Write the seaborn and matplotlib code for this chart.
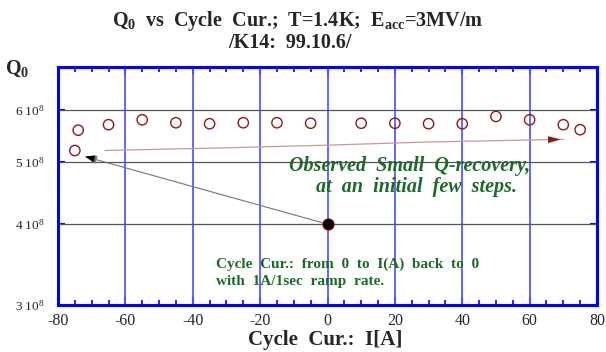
import matplotlib
matplotlib.use("Agg")
import matplotlib.pyplot as plt
import seaborn as sns
import pandas as pd
from matplotlib.ticker import FixedLocator, NullLocator, MultipleLocator

# data
cycle_current = [-75, -74, -65, -55, -45, -35, -25, -15, -5, 10, 20, 30, 40, 50, 60, 70, 75]
q0_values = [5.20e8, 5.59e8, 5.70e8, 5.80e8, 5.74e8, 5.72e8, 5.74e8, 5.74e8, 5.73e8,
             5.73e8, 5.73e8, 5.72e8, 5.72e8, 5.87e8, 5.80e8, 5.70e8, 5.60e8]
start_point_x = [0]
start_point_q = [4.0e8]
trend_x = [-66, -30, 0, 30, 70]
trend_q = [5.20e8, 5.25e8, 5.30e8, 5.36e8, 5.41e8]
ytick_vals = [3e8, 4e8, 5e8, 6e8]
ytick_labels = ["3 10$^8$", "4 10$^8$", "5 10$^8$", "6 10$^8$"]
xtick_vals = [-80, -60, -40, -20, 0, 20, 40, 60, 80]

sns.set_style("white")
plt.rcParams['font.family'] = ['Liberation Serif', 'DejaVu Serif']
plt.rcParams['mathtext.fontset'] = 'custom'
plt.rcParams['mathtext.rm'] = 'Liberation Serif'
plt.rcParams['mathtext.it'] = 'Liberation Serif:italic'
plt.rcParams['mathtext.bf'] = 'Liberation Serif:bold'

fig = plt.figure(figsize=(6.06, 3.52), dpi=100)
ax = fig.add_axes([58/606, 1-305/352, (597-58)/606, (305-67)/352])

df = pd.DataFrame({"I": cycle_current, "Q": q0_values})
ax.set_yscale("log")
ax.set_xlim(-80, 80)
ax.set_ylim(3e8, 7e8)

# grid
for xv in xtick_vals[1:-1]:
    ax.axvline(xv, color="#5a5aff", lw=1.3, zorder=1)
for yv in ytick_vals[1:]:
    ax.axhline(yv, color="#555555", lw=0.9, zorder=1)

# trend line with arrow
ax.plot(trend_x, trend_q, color="#cf9898", lw=0.9, zorder=2)
ax.annotate("", xy=(trend_x[-1], trend_q[-1]), xytext=(trend_x[-2] + 36, trend_q[-2] + 0.045e8),
            arrowprops=dict(arrowstyle="-|>,head_length=0.9,head_width=0.25", color="#8b1a1a", lw=0.0),
            zorder=3)

# black arrow from start point to first point
ax.annotate("", xy=(-72, 5.09e8), xytext=(start_point_x[0], start_point_q[0]),
            arrowprops=dict(arrowstyle="-|>,head_length=0.7,head_width=0.25", color="#777777",
                            lw=0.8, shrinkA=0, shrinkB=0), zorder=3)
ax.annotate("", xy=(-72, 5.09e8), xytext=(-68, 5.03e8),
            arrowprops=dict(arrowstyle="-|>,head_length=0.7,head_width=0.25", color="black",
                            lw=0.0, shrinkA=0, shrinkB=0), zorder=3)

sns.scatterplot(data=df, x="I", y="Q", ax=ax, marker="o", s=55, facecolor="none",
                edgecolor="#8b1a1a", linewidth=1.0, zorder=4, legend=False)
sns.scatterplot(x=start_point_x, y=start_point_q, ax=ax, marker="o", s=65, color="black",
                edgecolor="#aa0000", linewidth=0.8, zorder=5, legend=False)

# ticks
ax.xaxis.set_major_locator(FixedLocator(xtick_vals))
ax.xaxis.set_minor_locator(MultipleLocator(5))
ax.yaxis.set_major_locator(FixedLocator(ytick_vals))
ax.yaxis.set_minor_locator(NullLocator())
ax.set_yticklabels(ytick_labels)
ax.set_xticklabels([str(v) for v in xtick_vals])
ax.tick_params(axis="x", which="major", direction="in", length=6, width=1.5, color="#0000ff",
               top=True, bottom=True, labelsize=11.5, pad=6)
ax.tick_params(axis="x", which="minor", direction="in", length=3.5, width=1.2, color="#0000ff",
               top=True, bottom=True)
ax.tick_params(axis="y", which="major", direction="in", length=5, width=1.5, color="#0000ff",
               left=True, right=True, labelsize=9.5, pad=10)
for sp in ax.spines.values():
    sp.set_color("#0000ff")
    sp.set_linewidth(2.2)
    sp.set_zorder(6)

ax.set_xlabel("")
ax.set_ylabel("")

fig.text(298/606, 1-21/352, "Q$_\\mathbf{0}$  vs  Cycle  Cur.;  T=1.4K;  E$_\\mathbf{acc}$=3MV/m",
         ha="center", va="center", fontsize=14.5, fontweight="bold")
fig.text(290/606, 1-43/352, "/K14:  99.10.6/", ha="center", va="center", fontsize=14.5, fontweight="bold")
fig.text(17/606, 1-69/352, "Q$_\\mathbf{0}$", ha="center", va="center", fontsize=14.5, fontweight="bold")
fig.text(325/606, 1-340/352, "Cycle  Cur.:  I[A]", ha="center", va="center", fontsize=15, fontweight="bold")

fig.text(410/606, 1-166/352, "Observed  Small  Q-recovery,", ha="center", va="center",
         fontsize=14.5, fontweight="bold", fontstyle="italic", color="#1a6b2a")
fig.text(416/606, 1-187/352, "at  an  initial  few  steps.", ha="center", va="center",
         fontsize=14.5, fontweight="bold", fontstyle="italic", color="#1a6b2a")
fig.text(216/606, 1-264/352, "Cycle  Cur.:  from  0  to  I(A)  back  to  0", ha="left", va="center",
         fontsize=11, fontweight="bold", color="#1a6b2a")
fig.text(216/606, 1-281/352, "with  1A/1sec  ramp  rate.", ha="left", va="center",
         fontsize=11, fontweight="bold", color="#1a6b2a")

fig.savefig("out.png", dpi=100)
